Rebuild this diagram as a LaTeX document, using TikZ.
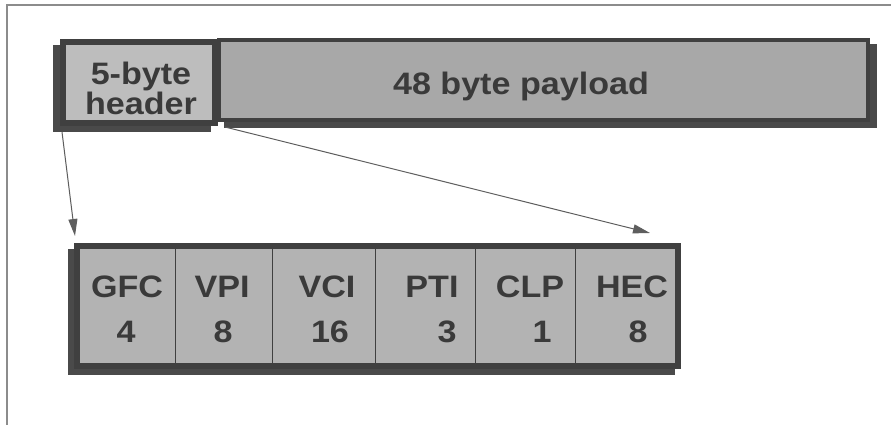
\documentclass[tikz,border=0pt]{standalone}
\usepackage{fontspec}
\setmainfont{Liberation Sans}
\usetikzlibrary{arrows.meta}
\definecolor{ink}{HTML}{3A3A3A}
\definecolor{rim}{HTML}{404040}
\definecolor{shadowc}{HTML}{4A4A4A}
\definecolor{hdrfill}{HTML}{BDBDBD}
\definecolor{payfill}{HTML}{A8A8A8}
\definecolor{fldfill}{HTML}{B3B3B3}
\definecolor{framec}{HTML}{8C8C8C}
\definecolor{pointer}{HTML}{5E5E5E}
\newcommand\wide[1]{\scalebox{1.1}[1]{#1}}
\begin{document}
\begin{tikzpicture}[x=1pt,y=-1pt,
  cellbox/.style={draw=rim,inner sep=0pt,outer sep=0pt},
  lbl/.style={font=\fontsize{31}{27}\bfseries,text=ink,inner sep=0pt,anchor=base},
  divider/.style={draw=rim,line width=0.8pt},
  dropshadow/.style={fill=shadowc},
  pointerline/.style={draw=pointer,line width=1pt,-{Triangle[length=17pt,width=9pt]}}]
\useasboundingbox (0,0) rectangle (891,425);

% page frame (top and left edges)
\draw[framec,line width=1.5pt] (7,425) -- (7,5) -- (891,5);

% 48 byte payload block with its drop shadow
\path[dropshadow] (224,44) rectangle (877,128);
\node[cellbox,line width=4pt,fill=payfill,minimum width=649pt,minimum height=80pt]
  (payload) at (543.5,80) {};

% 5-byte header block with its drop shadow
\path[dropshadow] (53,45) rectangle (211,132);
\node[cellbox,line width=6pt,fill=hdrfill,minimum width=152pt,minimum height=81pt]
  (hdr) at (139,82.5) {};

\node[lbl,align=center,anchor=north] (hdrtxt) at (141,61.5) {\wide{5-byte}\\\wide{header}};
\node[lbl] (paytxt) at (521,95) {\wide{48 byte payload}};

% expanded header fields
\path[dropshadow] (68,249) rectangle (675,375);
\node[cellbox,line width=6pt,fill=fldfill,minimum width=601pt,minimum height=120pt]
  (fields) at (377.5,306) {};
\foreach \x in {175,272,375,475,575}
  \draw[divider] (\x,249) -- (\x,363);

\node[lbl] (gfc)  at (127,297) {\wide{GFC}};
\node[lbl] (vpi)  at (222,297) {\wide{VPI}};
\node[lbl] (vci)  at (327,297) {\wide{VCI}};
\node[lbl] (pti)  at (432,297) {\wide{PTI}};
\node[lbl] (clp)  at (530,297) {\wide{CLP}};
\node[lbl] (hec)  at (632,297) {\wide{HEC}};
\node[lbl] (gfcn) at (126,342) {\wide{4}};
\node[lbl] (vpin) at (223,342) {\wide{8}};
\node[lbl] (vcin) at (330,342) {\wide{16}};
\node[lbl] (ptin) at (447,342) {\wide{3}};
\node[lbl] (clpn) at (542,342) {\wide{1}};
\node[lbl] (hecn) at (638,342) {\wide{8}};

% pointers from the header to its field breakdown
\coordinate (hdrL) at (62,132);
\coordinate (hdrR) at (225,127);
\coordinate (tipL) at (75,236);
\coordinate (tipR) at (650,233);
\draw[pointerline] (hdrL) -- (tipL);
\draw[pointerline] (hdrR) -- (tipR);
\end{tikzpicture}
\end{document}
